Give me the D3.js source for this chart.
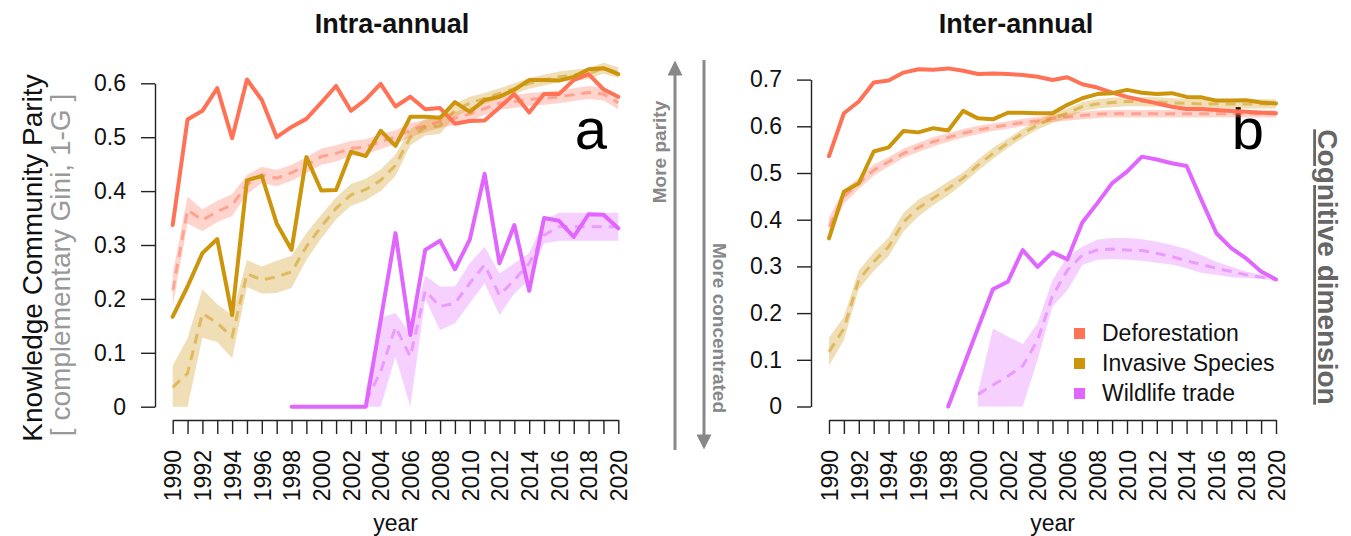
<!DOCTYPE html>
<html lang="en">
<head>
<meta charset="UTF-8">
<title>Knowledge Community Parity</title>
<script src="https://cdn.jsdelivr.net/npm/d3@7"></script>
<style>
  body { margin: 0; background: #fff; }
</style>
</head>
<body>
<div id="chart"></div>
<script>
// years on the x axis
const years = [1990,1991,1992,1993,1994,1995,1996,1997,1998,1999,2000,2001,2002,2003,2004,2005,
  2006,2007,2008,2009,2010,2011,2012,2013,2014,2015,2016,2017,2018,2019,2020];
const seriesNames = ["Deforestation", "Invasive Species", "Wildlife trade"];
const ticksIntra = [0, 0.1, 0.2, 0.3, 0.4, 0.5, 0.6];
const ticksInter = [0, 0.1, 0.2, 0.3, 0.4, 0.5, 0.6, 0.7];

// ---- a: intra-annual ----
const defIntra = [0.337,0.533,0.549,0.591,0.498,0.607,0.569,0.500,0.519,0.534,0.564,0.595,0.549,0.570,0.599,0.557,
  0.575,0.552,0.554,0.525,0.530,0.531,0.555,0.580,0.546,0.580,0.580,0.606,0.617,0.589,0.575];
const defIntraMean = [0.216,0.365,0.346,0.362,0.374,0.412,0.430,0.424,0.434,0.448,0.464,0.470,0.479,0.482,0.492,0.500,
  0.513,0.521,0.529,0.535,0.543,0.553,0.563,0.566,0.570,0.572,0.575,0.579,0.583,0.580,0.564];
const defIntraSd = [0.03,0.025,0.02,0.02,0.02,0.018,0.015,0.015,0.015,0.015,0.015,0.015,0.014,0.014,0.014,0.013,
  0.013,0.012,0.012,0.012,0.012,0.012,0.012,0.012,0.012,0.012,0.012,0.012,0.012,0.012,0.012];

const invIntra = [0.167,0.223,0.285,0.311,0.170,0.420,0.428,0.340,0.291,0.463,0.401,0.402,0.473,0.465,0.512,0.484,
  0.538,0.538,0.536,0.565,0.547,0.569,0.575,0.588,0.606,0.606,0.605,0.612,0.626,0.628,0.617];
const invIntraMean = [0.036,0.062,0.173,0.155,0.130,0.247,0.235,0.241,0.250,0.297,0.334,0.368,0.393,0.403,0.420,0.448,
  0.500,0.518,0.521,0.550,0.563,0.572,0.581,0.590,0.600,0.606,0.612,0.615,0.618,0.628,0.620];
const invIntraSd = [0.04,0.065,0.045,0.035,0.04,0.025,0.025,0.03,0.03,0.025,0.022,0.02,0.02,0.02,0.02,0.02,
  0.015,0.015,0.015,0.012,0.012,0.01,0.01,0.01,0.01,0.01,0.01,0.01,0.01,0.01,0.01];

const wildIntra = [null,null,null,null,null,null,null,null,0,0,0,0,0,0,0.16,0.322,
  0.133,0.291,0.308,0.255,0.310,0.432,0.266,0.337,0.215,0.350,0.345,0.315,0.357,0.356,0.331];
const wildIntraMean = [null,null,null,null,null,null,null,null,null,null,null,null,null,0.01,0.065,0.148,
  0.093,0.215,0.186,0.192,0.229,0.263,0.207,0.235,0.266,0.318,0.334,0.334,0.334,0.334,0.334];
const wildIntraLo = [null,null,null,null,null,null,null,null,null,null,null,null,null,0,0,0.093,
  0,0.2,0.142,0.155,0.192,0.229,0.17,0.21,0.235,0.303,0.308,0.308,0.308,0.308,0.308];
const wildIntraHi = [null,null,null,null,null,null,null,null,null,null,null,null,null,0.03,0.165,0.174,
  0.136,0.243,0.223,0.223,0.266,0.297,0.247,0.266,0.285,0.346,0.36,0.36,0.36,0.36,0.36];

// ---- b: inter-annual ----
const defInter = [0.536,0.628,0.653,0.694,0.698,0.715,0.722,0.721,0.724,0.719,0.712,0.713,0.712,0.710,0.706,0.699,
  0.705,0.690,0.683,0.672,0.663,0.656,0.649,0.642,0.637,0.637,0.635,0.633,0.631,0.629,0.628];
const defInterMean = [0.385,0.449,0.478,0.506,0.524,0.542,0.555,0.567,0.576,0.585,0.592,0.598,0.603,0.608,0.612,0.617,
  0.620,0.623,0.626,0.627,0.627,0.627,0.627,0.627,0.627,0.627,0.627,0.627,0.627,0.627,0.627];
const defInterSd = [0.02,0.015,0.012,0.012,0.01,0.01,0.01,0.01,0.009,0.009,0.009,0.008,0.008,0.008,0.008,0.008,
  0.008,0.008,0.008,0.008,0.008,0.008,0.008,0.008,0.008,0.008,0.008,0.008,0.008,0.008,0.008];

const invInter = [0.360,0.460,0.478,0.546,0.555,0.590,0.587,0.596,0.591,0.633,0.617,0.615,0.629,0.629,0.628,0.628,
  0.646,0.660,0.669,0.671,0.678,0.672,0.669,0.671,0.663,0.662,0.655,0.655,0.656,0.651,0.649];
const invInterMean = [0.117,0.167,0.271,0.310,0.342,0.395,0.425,0.446,0.467,0.489,0.517,0.542,0.564,0.585,0.603,0.617,
  0.628,0.642,0.648,0.651,0.653,0.653,0.652,0.650,0.649,0.648,0.648,0.648,0.648,0.648,0.648];
const invInterSd = [0.03,0.025,0.02,0.02,0.02,0.02,0.018,0.015,0.015,0.012,0.012,0.012,0.01,0.01,0.01,0.01,
  0.01,0.01,0.01,0.01,0.01,0.01,0.01,0.01,0.01,0.01,0.01,0.01,0.01,0.01,0.01];

const wildInter = [null,null,null,null,null,null,null,null,0,0.084,0.168,0.251,0.267,0.335,0.299,0.330,
  0.315,0.394,0.435,0.478,0.503,0.535,0.529,0.521,0.515,0.442,0.371,0.339,0.317,0.289,0.272];
const wildInterMean = [null,null,null,null,null,null,null,null,null,null,0.026,0.046,0.065,0.087,0.142,0.237,
  0.292,0.324,0.335,0.337,0.335,0.334,0.328,0.321,0.312,0.304,0.296,0.289,0.282,0.277,0.272];
const wildInterLo = [null,null,null,null,null,null,null,null,null,null,0,0,0,0,0.1,0.214,
  0.249,0.303,0.314,0.316,0.314,0.312,0.308,0.304,0.296,0.286,0.282,0.277,0.275,0.273,0.270];
const wildInterHi = [null,null,null,null,null,null,null,null,null,null,0.03,0.167,0.15,0.134,0.178,0.271,
  0.321,0.342,0.357,0.361,0.361,0.358,0.353,0.346,0.337,0.324,0.310,0.299,0.289,0.282,0.275];

const colors = ["#FF7256", "#CD950C", "#E066FF"];
const font = "'Liberation Sans', Arial, Helvetica, sans-serif";

const W = 1351, H = 536;
const svg = d3.select("#chart").append("svg")
  .attr("width", W).attr("height", H)
  .style("font-family", font);

function meanSd(mean, sd) {
  return years.map((yr, i) => mean[i] == null ? null :
    { year: yr, m: mean[i], lo: Math.max(0, mean[i] - sd[i]), hi: mean[i] + sd[i] });
}
function meanLoHi(mean, lo, hi) {
  return years.map((yr, i) => mean[i] == null ? null : { year: yr, m: mean[i], lo: lo[i], hi: hi[i] });
}

function drawPanel(p) {
  const x = d3.scaleLinear().domain([1990, 2020]).range(p.xr);
  const y = d3.scaleLinear().domain([0, p.ymax]).range(p.yr);
  const g = svg.append("g");

  // y axis
  const ya = g.append("g").attr("transform", `translate(${p.yAxisX},0)`)
    .call(d3.axisLeft(y).tickValues(p.yticks).tickSize(14).tickSizeOuter(0).tickPadding(15)
      .tickFormat(d => d === 0 ? "0" : d3.format(".1f")(d)));
  ya.select(".domain").attr("stroke", "#222").attr("stroke-width", 1.4);
  ya.selectAll(".tick line").attr("stroke", "#222").attr("stroke-width", 1.4);
  ya.selectAll("text").style("font-size", "23px").style("font-family", font).attr("fill", "#111");

  // x axis
  const xa = g.append("g").attr("transform", `translate(0,420)`)
    .call(d3.axisBottom(x).tickValues(years).tickSize(14).tickSizeOuter(0)
      .tickFormat(d => d % 2 === 0 ? String(d) : ""));
  xa.select(".domain").attr("stroke", "#222").attr("stroke-width", 1.4);
  xa.selectAll(".tick line").attr("stroke", "#222").attr("stroke-width", 1.4);
  xa.selectAll("text")
    .attr("transform", "rotate(-90)")
    .attr("x", -30).attr("y", 0).attr("dy", "0.36em")
    .style("text-anchor", "end")
    .style("font-size", "23px").style("font-family", font).attr("fill", "#111");

  g.append("text").attr("x", (p.xr[0] + p.xr[1]) / 2).attr("y", 531)
    .attr("text-anchor", "middle").style("font-size", "23px").attr("fill", "#111").text("year");

  g.append("text").attr("x", p.titleX).attr("y", 33)
    .attr("text-anchor", "middle").style("font-size", "27px").style("font-weight", "bold")
    .attr("fill", "#111").text(p.title);

  g.append("text").attr("x", p.letterX).attr("y", 149)
    .attr("text-anchor", "middle").style("font-size", "58px").attr("fill", "#000").text(p.letter);

  const area = d3.area().defined(d => d != null)
    .x(d => x(d.year)).y0(d => y(d.lo)).y1(d => y(d.hi));
  const meanLine = d3.line().defined(d => d != null)
    .x(d => x(d.year)).y(d => y(d.m));
  const solidLine = d3.line().defined(d => d != null)
    .x((d, i) => x(years[i])).y(d => y(d));

  p.bands.forEach((b, i) => {
    g.append("path").datum(b).attr("d", area)
      .attr("fill", colors[i]).attr("fill-opacity", 0.3).attr("stroke", "none");
  });
  p.bands.forEach((b, i) => {
    g.append("path").datum(b).attr("d", meanLine)
      .attr("fill", "none").attr("stroke", colors[i]).attr("stroke-opacity", 0.5)
      .attr("stroke-width", 3).attr("stroke-dasharray", "10,7");
  });
  p.solids.forEach((s, i) => {
    g.append("path").datum(s).attr("d", solidLine)
      .attr("fill", "none").attr("stroke", colors[i]).attr("stroke-width", 4)
      .attr("stroke-linejoin", "round").attr("stroke-linecap", "round");
  });
}

drawPanel({
  xr: [172.7, 618.3], yr: [406.7, 83.3], ymax: 0.6, yticks: ticksIntra, yAxisX: 155,
  title: "Intra-annual", titleX: 392, letter: "a", letterX: 591,
  solids: [defIntra, invIntra, wildIntra],
  bands: [meanSd(defIntraMean, defIntraSd), meanSd(invIntraMean, invIntraSd),
          meanLoHi(wildIntraMean, wildIntraLo, wildIntraHi)]
});
drawPanel({
  xr: [829, 1276], yr: [406.5, 79.6], ymax: 0.7, yticks: ticksInter, yAxisX: 811,
  title: "Inter-annual", titleX: 1016, letter: "b", letterX: 1248,
  solids: [defInter, invInter, wildInter],
  bands: [meanSd(defInterMean, defInterSd), meanSd(invInterMean, invInterSd),
          meanLoHi(wildInterMean, wildInterLo, wildInterHi)]
});

// y axis title
svg.append("text").attr("transform", "translate(42,258) rotate(-90)")
  .attr("text-anchor", "middle").style("font-size", "28px").attr("fill", "#111")
  .text("Knowledge Community Parity");
svg.append("text").attr("transform", "translate(70,265) rotate(-90)")
  .attr("text-anchor", "middle").style("font-size", "28px").attr("fill", "#999")
  .text("[ complementary Gini, 1-G ]");

// arrows in the middle
const defs = svg.append("defs");
defs.append("marker").attr("id", "head").attr("viewBox", "0 0 10 10")
  .attr("refX", 5).attr("refY", 5).attr("markerWidth", 6).attr("markerHeight", 5)
  .attr("markerUnits", "strokeWidth").attr("orient", "auto")
  .append("path").attr("d", "M0,0 L10,5 L0,10 Z").attr("fill", "#888");

svg.append("line").attr("x1", 675).attr("y1", 450).attr("x2", 675).attr("y2", 68)
  .attr("stroke", "#888").attr("stroke-width", 3).attr("marker-end", "url(#head)");
svg.append("line").attr("x1", 704).attr("y1", 60).attr("x2", 704).attr("y2", 442)
  .attr("stroke", "#888").attr("stroke-width", 3).attr("marker-end", "url(#head)");

svg.append("text").attr("transform", "translate(666,152) rotate(-90)")
  .attr("text-anchor", "middle").style("font-size", "19px").style("font-weight", "bold")
  .attr("fill", "#888").text("More parity");
svg.append("text").attr("transform", "translate(713,328) rotate(90)")
  .attr("text-anchor", "middle").style("font-size", "19px").style("font-weight", "bold")
  .attr("fill", "#888").text("More concentrated");

// right side label
svg.append("text").attr("transform", "translate(1318,267) rotate(90)")
  .attr("text-anchor", "middle").style("font-size", "28px").style("font-weight", "bold")
  .style("text-decoration", "underline")
  .attr("fill", "#666").text("Cognitive dimension");

// legend
const leg = svg.append("g").attr("transform", "translate(1074,333)");
seriesNames.forEach((name, i) => {
  leg.append("rect").attr("x", 0).attr("y", i * 30 - 5).attr("width", 11).attr("height", 11)
    .attr("fill", colors[i]);
  leg.append("text").attr("x", 28).attr("y", i * 30).attr("dy", "0.36em")
    .style("font-size", "23px").attr("fill", "#111").text(name);
});
</script>
</body>
</html>
